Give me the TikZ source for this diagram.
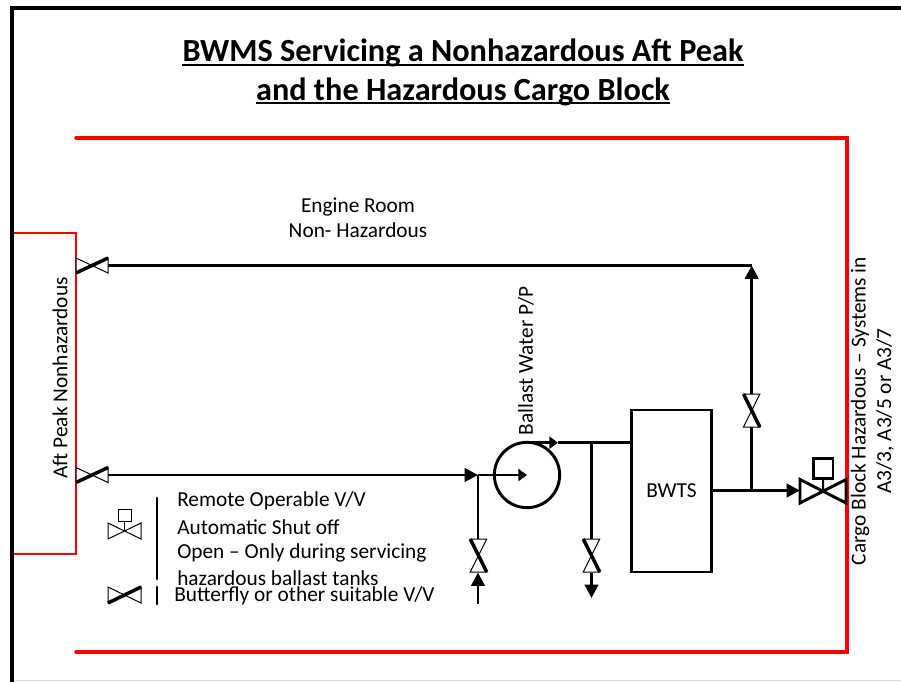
\documentclass[tikz,border=0pt]{standalone}
\usepackage{fontspec}
\setmainfont{Carlito}
\usetikzlibrary{arrows.meta}
\tikzset{
  x=0.75pt,y=-0.75pt,
  frame/.style={line width=3.2pt,black},
  redline/.style={line width=2.6pt,red,line cap=round,line join=miter},
  redthin/.style={line width=1.9pt,red,line join=miter},
  pipe/.style={line width=2.2pt,black},
  pipearrow/.style={pipe,-{Triangle[length=10pt,width=10pt]}},
  smallarrow/.style={pipe,-{Triangle[length=6.5pt,width=9pt]}},
  halfthin/.style={line width=0.75pt,black,fill=white,line join=miter},
  halfthick/.style={line width=2.6pt,black,line cap=butt},
  legendbar/.style={line width=2.2pt,black,line cap=round},
  lab/.style={inner sep=0pt,align=center,font=\fontsize{16}{18.75}\selectfont},
  leftlab/.style={inner sep=0pt,anchor=west,font=\fontsize{16}{18.75}\selectfont},
  titlelab/.style={inner sep=0pt,anchor=base,font=\bfseries\fontsize{24.2}{28}\selectfont},
  titlerule/.style={line width=1.8pt,black},
  box/.style={draw=black,line width=2.2pt,fill=white,inner sep=0pt,minimum width=60pt,minimum height=121.5pt,font=\fontsize{16}{18.75}\selectfont},
  pumpc/.style={draw=black,line width=2.2pt,circle,inner sep=0pt,minimum size=49pt,fill=none},
}
% butterfly valve: name, centre
\newcommand{\bfvalve}[2]{%
  \coordinate (#1) at #2;
  \begin{scope}[shift={#2}]
    \draw[halfthin] (-16,-7.5) -- (16,7.5) -- (16,-7.5) -- (-16,7.5) -- cycle;
    \draw[halfthick] (-16,7.5) -- (16,-7.5);
  \end{scope}}
% butterfly valve on a vertical pipe: name, centre
\newcommand{\vbfvalve}[2]{%
  \coordinate (#1) at #2;
  \begin{scope}[shift={#2}]
    \draw[halfthin] (-8.2,-16.5) -- (8.2,16.5) -- (-8.2,16.5) -- (8.2,-16.5) -- cycle;
    \draw[halfthick] (-8.2,-16.5) -- (8.2,16.5);
  \end{scope}}
\begin{document}
\begin{tikzpicture}
\useasboundingbox (0,0) rectangle (901,682);
\fill[white] (0,0) rectangle (901,682);
% outer frame
\draw[frame] (12,682) -- (12,8) -- (901,8);
\draw[line width=0.7pt,black!15] (14,680.5) -- (901,680.5);
% title
\node[titlelab] (t1) at (463,61.5) {BWMS Servicing a Nonhazardous Aft Peak};
\node[titlelab] (t2) at (463,100) {and the Hazardous Cargo Block};
\draw[titlerule] ([yshift=-2.4pt]t1.base west) -- ([yshift=-2.4pt]t1.base east);
\draw[titlerule] ([yshift=-2.4pt]t2.base west) -- ([yshift=-2.4pt]t2.base east);
% red boundaries
\draw[redline] (76,138) -- (847,138) -- (847,652) -- (76,652);
\draw[redthin] (14,233) -- (76,233) -- (76,554) -- (14,554);
% labels
\node[lab] (er) at (358,217.5) {Engine Room\\Non- Hazardous};
\node[lab,rotate=90] (aft) at (60,378) {Aft Peak Nonhazardous};
\node[lab,rotate=90] (bwp) at (526,361) {Ballast Water P/P};
\node[lab,rotate=90] (cb1) at (860,411) {Cargo Block Hazardous -- Systems in};
\node[lab,rotate=90] (cb2) at (885,411) {A3/3, A3/5 or A3/7};
% equipment
\node[box] (bwts) at (671.5,491) {BWTS};
\node[pumpc] (pump) at (527,475) {};
% junction coordinates
\coordinate (vtopR) at (108,265.5);
\coordinate (vlowR) at (108,475);
\coordinate (j1) at (478,475);
\coordinate (pc) at (527,475);
\coordinate (ptop) at (527,442.7);
\coordinate (pmid) at (558,442.7);
\coordinate (j2) at (591.5,442.7);
\coordinate (bwtsin) at (631,442.7);
\coordinate (bwtsout) at (712,490.5);
\coordinate (j3) at (751.7,490.5);
\coordinate (corner) at (751.7,265.5);
\coordinate (riseA) at (478,604);
\coordinate (riseB) at (478,572.5);
\coordinate (dropA) at (591.5,572.5);
\coordinate (dropB) at (591.5,598);
\coordinate (v1top) at (478,539);
\coordinate (v2top) at (591.5,539);
\coordinate (v3bot) at (751.7,427);
\coordinate (v3top) at (751.7,394);
\coordinate (rvin) at (800,490.5);
% connectors
\draw[pipe] (vtopR) -- (corner);
\draw[pipearrow] (v3top) -- (corner);
\draw[pipearrow] (vlowR) -- (j1);
\draw[smallarrow] (j1) -- (pc);
\draw[pipe] (j1) -- (v1top);
\draw[pipearrow] (riseA) -- (riseB);
\draw[smallarrow] (ptop) -- (pmid);
\draw[pipe] (pmid) -- (bwtsin);
\draw[pipe] (j2) -- (v2top);
\draw[pipearrow] (dropA) -- (dropB);
\draw[pipearrow] (bwtsout) -- (rvin);
\draw[pipe] (j3) -- (v3bot);
% valves
\bfvalve{v4}{(92,265.5)}
\bfvalve{v5}{(92,475)}
\vbfvalve{v1}{(478.5,555.5)}
\vbfvalve{v2}{(591.5,555.5)}
\vbfvalve{v3}{(751.7,410.5)}
% remote valve in line
\draw[line width=2.2pt,line join=miter,fill=white] (800,479.5) -- (846,503) -- (846,479.5) -- (800,503) -- cycle;
\node[draw=black,line width=2.2pt,fill=white,inner sep=0pt,minimum size=14.5pt] (rvbox) at (823.3,468.5) {};
\coordinate (rvc) at (823,491);
\draw[line width=1.5pt] (rvbox) -- (rvc);
% legend
\draw[halfthin] (108,523) -- (141,539) -- (141,523) -- (108,539) -- cycle;
\node[draw=black,line width=0.75pt,fill=white,inner sep=0pt,minimum size=9.7pt] (lgbox) at (124.7,515.5) {};
\coordinate (lgc) at (124.7,531);
\draw[line width=0.75pt] (lgbox) -- (lgc);
\draw[halfthin] (108,587) -- (141,603) -- (141,587) -- (108,603) -- cycle;
\draw[halfthick] (108,603) -- (141,587);
\draw[legendbar] (157,498) -- (157,579);
\draw[legendbar] (157,587) -- (157,604);
\node[leftlab] (l1) at (177,501) {Remote Operable V/V};
\node[leftlab] (l2) at (177,527) {Automatic Shut off};
\node[leftlab] (l3) at (177,553) {Open -- Only during servicing};
\node[leftlab] (l4) at (177,578.5) {hazardous ballast tanks};
\node[leftlab] (l5) at (174,596) {Butterfly or other suitable V/V};
\end{tikzpicture}
\end{document}
